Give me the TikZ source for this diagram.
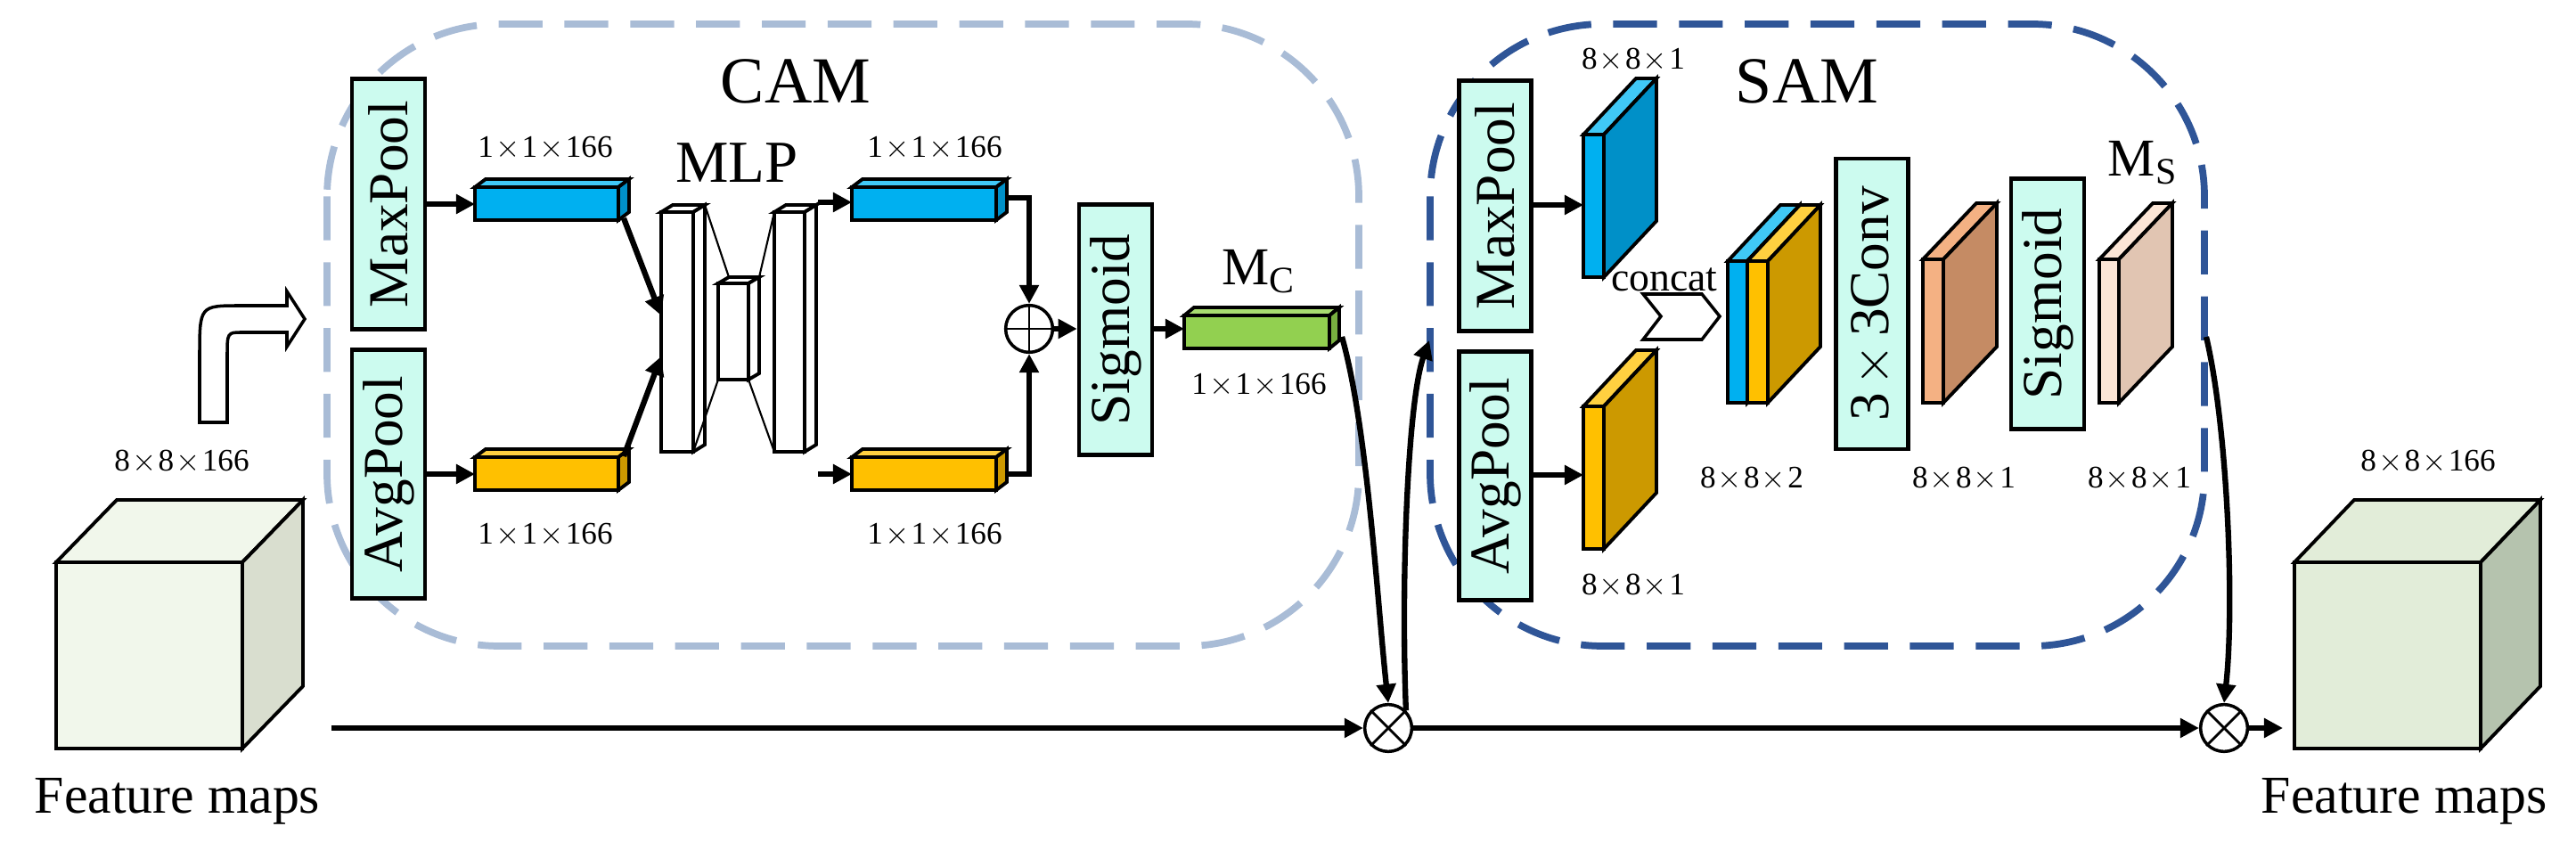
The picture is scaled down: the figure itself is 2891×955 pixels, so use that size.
\documentclass[tikz,border=0pt]{standalone}
\usepackage{fontspec}
\setmainfont{Liberation Serif}
\newfontfamily\tnr{Liberation Serif}
\usetikzlibrary{arrows.meta,calc}
\definecolor{boxc}{HTML}{CCFBEF}
\definecolor{camc}{HTML}{A9BCD6}
\definecolor{samc}{HTML}{2F5597}
\definecolor{bluF}{HTML}{00B0F0}
\definecolor{bluT}{HTML}{40C8F6}
\definecolor{bluS}{HTML}{0090C8}
\definecolor{yelF}{HTML}{FFC000}
\definecolor{yelT}{HTML}{FFD040}
\definecolor{yelS}{HTML}{CC9900}
\definecolor{grnF}{HTML}{92D050}
\definecolor{grnT}{HTML}{A8DC70}
\definecolor{grnS}{HTML}{78B040}
\definecolor{orF}{HTML}{F4B183}
\definecolor{orS}{HTML}{C58B64}
\definecolor{ltF}{HTML}{FBE5D6}
\definecolor{ltS}{HTML}{E1C5B2}
\definecolor{c1F}{HTML}{F1F7EB}
\definecolor{c1S}{HTML}{D9DECF}
\definecolor{c2F}{HTML}{E2EDD9}
\definecolor{c2S}{HTML}{B5C3AE}
\newcommand{\tms}{\makebox[0.9em]{$\times$}}
% cuboid: x1 y1 x2 y2 dx dy front top side
\newcommand{\cubo}[9]{%
  \draw[line width=1.1pt,fill=#7] (#1,#2) rectangle (#3,#4);
  \draw[line width=1.1pt,fill=#8] (#1,#2) -- ++(#5,-#6) -- ++({#3-#1},0) -- (#3,#2) -- cycle;
  \draw[line width=1.1pt,fill=#9] (#3,#2) -- ++(#5,-#6) -- ++(0,{#4-#2}) -- (#3,#4) -- cycle;}
\tikzset{
  lbl/.style={font=\tnr\fontsize{10}{12}\selectfont, inner sep=0pt},
  big/.style={font=\tnr\fontsize{21}{24}\selectfont, inner sep=0pt},
  fm/.style={font=\tnr\fontsize{17}{20}\selectfont, inner sep=0pt},
  op/.style={draw=black, line width=1.3pt, fill=boxc, inner sep=0pt, font=\tnr\fontsize{18}{20}\selectfont},
  arr/.style={line width=1.8pt, -{Triangle[length=6pt,width=6pt]}},
  circ/.style={circle, draw, line width=1pt, fill=white, minimum size=15pt, inner sep=0pt},
}
\begin{document}
\begin{tikzpicture}[x=0.01cm,y=-0.01cm]
\useasboundingbox (0,0) rectangle (2891,955);
% group boxes
\draw[camc, line width=2.2pt, dash pattern=on 14pt off 7pt, rounded corners=55pt] (367,27) rectangle (1525,725);
\draw[samc, line width=2.2pt, dash pattern=on 14pt off 7pt, rounded corners=55pt] (1605,27) rectangle (2474,725);
\node[big] (cam) at (893,91) {CAM};
\node[big] (sam) at (2028,91) {SAM};
% left cube
\cubo{63}{631}{272}{840}{68}{70}{c1F}{c1F}{c1S}
\node[lbl] (l0) at (204,518) {8\tms8\tms166};
\node[fm] (fm1) at (199,899) {Feature maps};
% bent arrow
\draw[line width=1pt, fill=white] (224,474) -- (224,400) .. controls (224,343) .. (270,343) -- (322,343) -- (322,327) -- (342,358) -- (322,389) -- (322,373) -- (272,373) .. controls (255,373) .. (255,400) -- (255,474) -- cycle;
% CAM ops
\node[op, rotate=90, minimum width=2.81cm, minimum height=0.82cm] (cmax) at (436,229) {MaxPool};
\node[op, rotate=90, minimum width=2.79cm, minimum height=0.82cm] (cavg) at (436,532) {AvgPool};
\cubo{533}{210}{694}{247}{12}{9}{bluF}{bluT}{bluS}
\cubo{533}{513}{694}{550}{12}{9}{yelF}{yelT}{yelS}
\node[lbl] at (612,166) {1\tms1\tms166};
\node[lbl] at (612,600) {1\tms1\tms166};
% MLP
\cubo{742}{238}{778}{507}{13}{8}{white}{white}{white}
\cubo{806}{318}{840}{426}{12}{7}{white}{white}{white}
\cubo{869}{238}{903}{507}{13}{8}{white}{white}{white}
\draw[line width=0.6pt] (791,230) -- (818,311) (778,507) -- (806,426) (852,311) -- (869,238) (840,426) -- (869,507);
\node[big, font=\tnr\fontsize{19}{22}\selectfont] (mlp) at (827,183) {MLP};
\cubo{956}{210}{1118}{247}{12}{9}{bluF}{bluT}{bluS}
\cubo{956}{513}{1118}{550}{12}{9}{yelF}{yelT}{yelS}
\node[lbl] at (1049,166) {1\tms1\tms166};
\node[lbl] at (1049,600) {1\tms1\tms166};
\node[circ] (plus) at (1155,369) {};
\draw[line width=0.8pt] (plus.north) -- (plus.south) (plus.west) -- (plus.east);
\node[op, rotate=90, minimum width=2.81cm, minimum height=0.82cm] (csig) at (1252,370) {Sigmoid};
\cubo{1329}{354}{1492}{391}{11}{9}{grnF}{grnT}{grnS}
\node[fm] at (1413,305) {M\textsubscript{C}};
\node[lbl] at (1413,432) {1\tms1\tms166};
\coordinate (mlpa) at (742,354);
\coordinate (mlpb) at (742,400);
\draw[arr] (cmax.south |- 0,229) -- (533,229);
\draw[arr] (cavg.south |- 0,532) -- (533,532);
\draw[arr] (700,245) -- (mlpa);
\draw[arr] (700,512) -- (mlpb);
\draw[arr] (918,227) -- (956,227);
\draw[arr] (918,532) -- (956,532);
\draw[arr] (1130,222) -- (1155,222) -- (plus.north);
\draw[arr] (1130,532) -- (1155,532) -- (plus.south);
\draw[arr] (plus.east) -- (csig.north |- plus.east);
\draw[arr] (csig.south |- 0,369) -- (1329,369);
% main line
\node[circ] (m1) at (1558,817) {};
\node[circ] (m2) at (2496,817) {};
\draw[line width=0.8pt] (m1.north west) -- (m1.south east) (m1.north east) -- (m1.south west);
\draw[line width=0.8pt] (m2.north west) -- (m2.south east) (m2.north east) -- (m2.south west);
\draw[arr] (372,817) -- (m1.west);
\draw[arr] (m1.east) -- (m2.west);
\coordinate (out) at (2562,817);
\draw[arr] (m2.east) -- (out);
\coordinate (gend) at (1506,378);
\coordinate (samin) at (1604,382);
\coordinate (send) at (2476,378);
\draw[arr] (gend) .. controls (1535,480) and (1546,680) .. (m1.north);
\draw[arr] (m1.north east) .. controls (1572,650) and (1580,450) .. (samin);
\draw[arr] (send) .. controls (2500,480) and (2508,680) .. (m2.north);
% SAM
\node[op, rotate=90, minimum width=2.81cm, minimum height=0.81cm] (smax) at (1678,231) {MaxPool};
\node[op, rotate=90, minimum width=2.79cm, minimum height=0.81cm] (savg) at (1678,534) {AvgPool};
\cubo{1777}{151}{1800}{311}{59}{63}{bluF}{bluT}{bluS}
\cubo{1777}{456}{1800}{616}{59}{63}{yelF}{yelT}{yelS}
\node[lbl] at (1833,67) {8\tms8\tms1};
\node[lbl] at (1833,657) {8\tms8\tms1};
\draw[arr] (smax.south |- 0,230) -- (1777,230);
\draw[arr] (savg.south |- 0,533) -- (1777,533);
\node[lbl, font=\tnr\fontsize{13}{15}\selectfont] (concat) at (1868,314) {concat};
\draw[line width=1pt, fill=white] (1844,330) -- (1910,330) -- (1930,355) -- (1910,381) -- (1844,381) -- (1864,355) -- cycle;
% concat slab
\cubo{1939}{293}{1961}{452}{59}{63}{bluF}{bluT}{bluS}
\cubo{1961}{293}{1984}{452}{59}{63}{yelF}{yelT}{yelS}
\node[lbl] at (1966,537) {8\tms8\tms2};
\node[op, rotate=90, minimum width=3.26cm, minimum height=0.81cm] (conv) at (2101,341) {3\makebox[1em]{$\times$}3Conv};
\cubo{2158}{291}{2181}{452}{60}{63}{orF}{orF}{orS}
\node[lbl] at (2204,537) {8\tms8\tms1};
\node[op, rotate=90, minimum width=2.81cm, minimum height=0.82cm] (ssig) at (2298,341) {Sigmoid};
\cubo{2356}{291}{2378}{452}{60}{63}{ltF}{ltF}{ltS}
\node[fm] at (2405,183) {M\textsubscript{S}};
\node[lbl] at (2401,537) {8\tms8\tms1};
% right cube
\cubo{2575}{631}{2784}{840}{67}{70}{c2F}{c2F}{c2S}
\node[lbl] at (2725,518) {8\tms8\tms166};
\node[fm] (fm2) at (2698,899) {Feature maps};
\end{tikzpicture}
\end{document}
